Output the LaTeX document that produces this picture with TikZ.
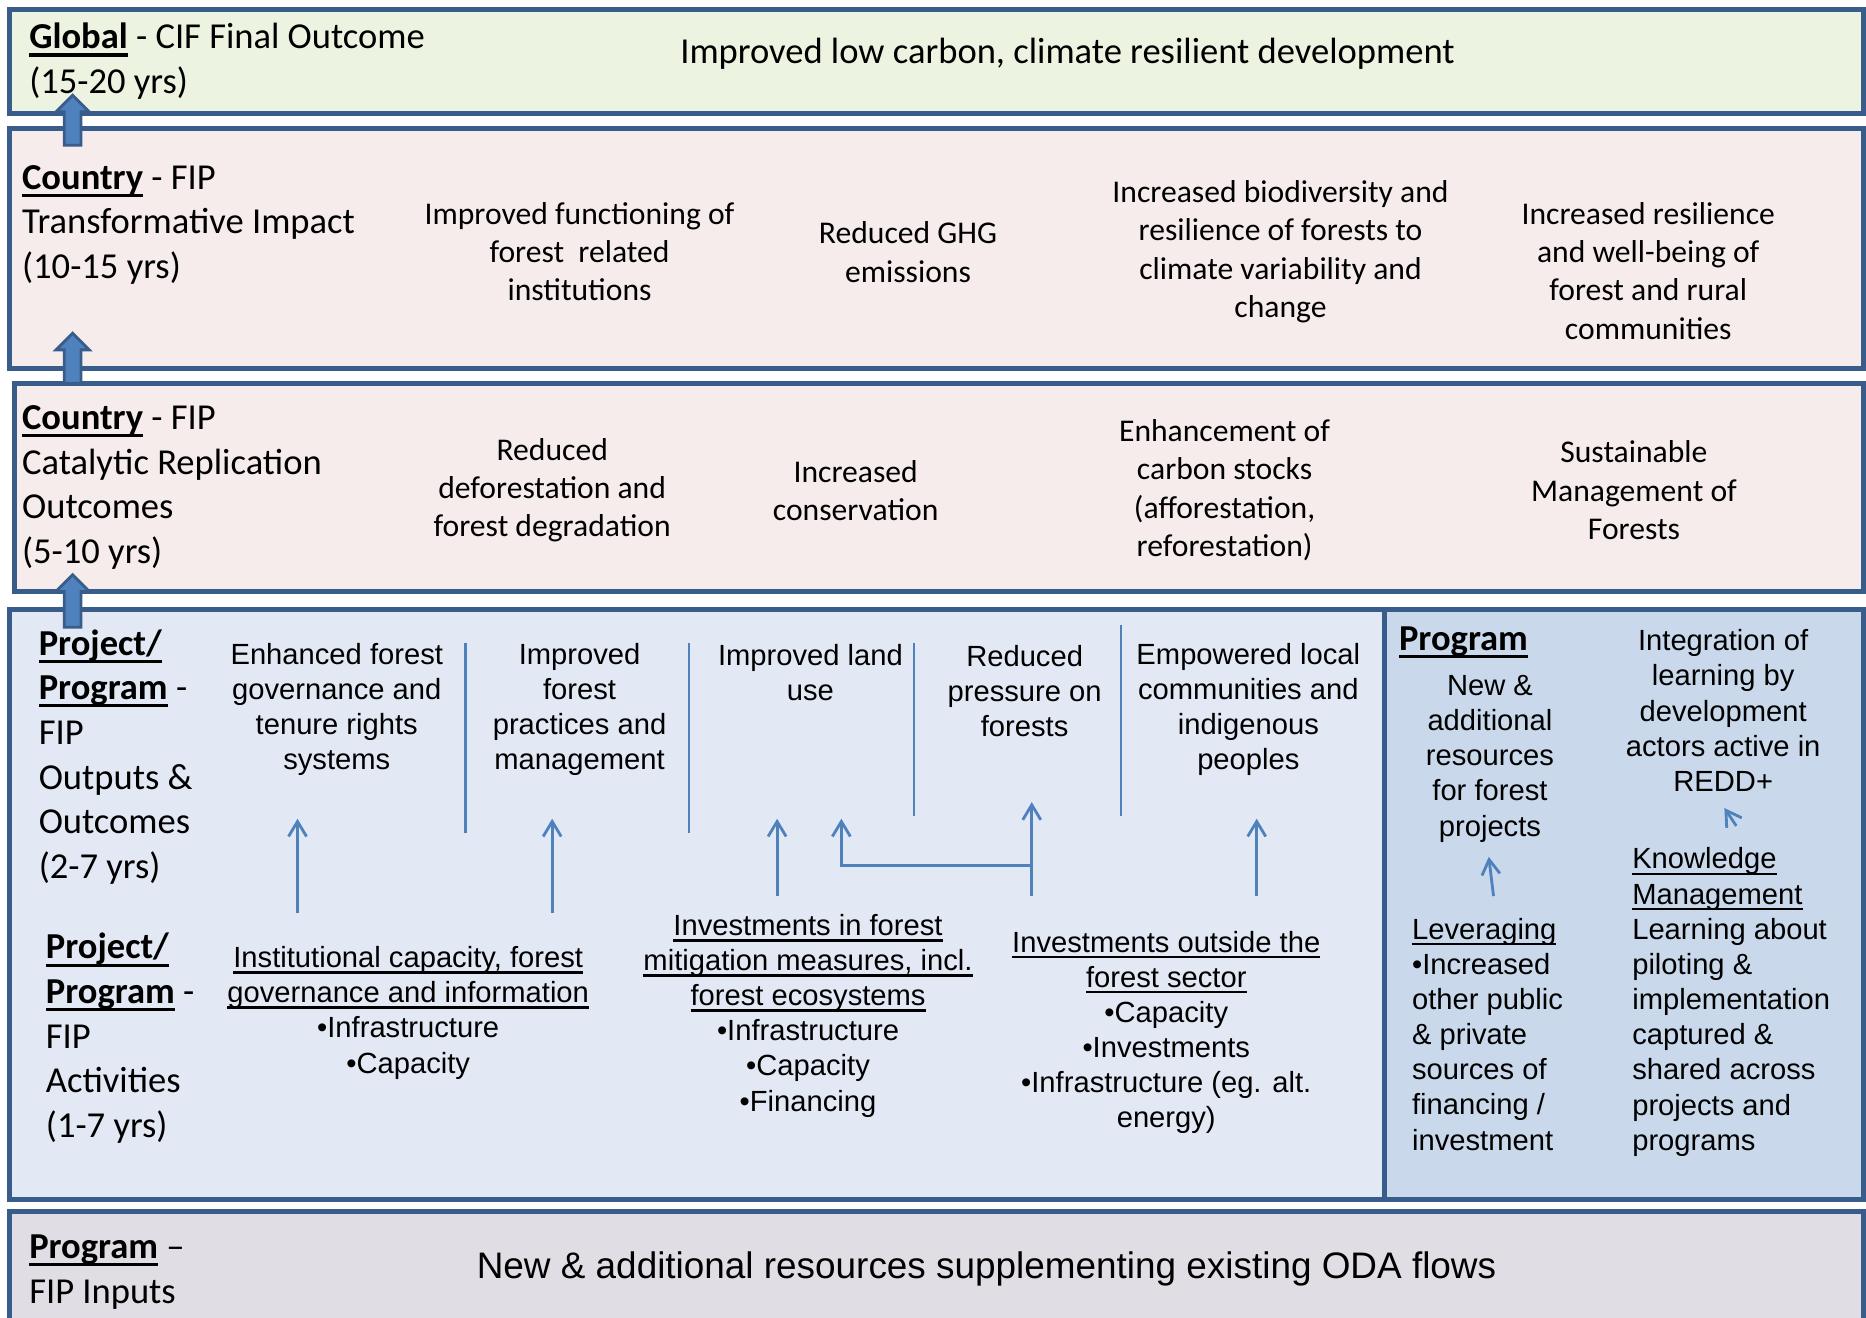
\documentclass[tikz,border=0pt]{standalone}
\usepackage{fontspec}
\setmainfont{Carlito}
\newfontfamily\arialfont{Liberation Sans}
\usepackage{tikz}
\usetikzlibrary{arrows.meta}
\definecolor{bandline}{RGB}{56,93,138}
\definecolor{greenfill}{RGB}{236,243,225}
\definecolor{pinkfill}{RGB}{246,236,236}
\definecolor{bluefill}{RGB}{226,233,244}
\definecolor{panelfill}{RGB}{201,217,235}
\definecolor{greyfill}{RGB}{224,222,228}
\definecolor{arrowblue}{RGB}{79,129,189}
\definecolor{arrowedge}{RGB}{56,93,138}
% 下划线(固定深度, 较粗)
\newcommand\undl[1]{\leavevmode\setbox0\hbox{#1}\rlap{\rule[-0.21em]{\wd0}{0.085em}}\box0\relax}

\begin{document}
\begin{tikzpicture}[
		x=0.11901mm, y=-0.11901mm,  % 按参考图像素定位
		band/.style={draw=bandline, line width=1.4pt},
		lbl/.style={inner sep=0pt, anchor=west, align=left, font=\fontsize{10.4}{12.7}\selectfont},
		bigitem/.style={inner sep=0pt, align=center, font=\fontsize{10.4}{12.7}\selectfont},
		item/.style={inner sep=0pt, align=center, font=\fontsize{9}{10.9}\selectfont},
		outp/.style={inner sep=0pt, align=center, font=\arialfont\fontsize{8.3}{10}\selectfont},
		inp/.style={inner sep=0pt, align=center, font=\arialfont\fontsize{10.5}{12.6}\selectfont},
		sep/.style={draw=arrowblue, line width=0.7pt},
		arrow/.style={draw=arrowblue, line width=0.8pt, -{Straight Barb[length=1.5mm, width=1.8mm]}},
		blockarrow/.style={fill=arrowblue, draw=arrowedge, line width=0.8pt}
		]
		\useasboundingbox (0,0) rectangle (1568,1107);
		% 各层底色框
		\draw[band, fill=greenfill] (8,8) rectangle (1566,95);
		\draw[band, fill=pinkfill] (8,108) rectangle (1566,310);
		\draw[band, fill=pinkfill] (12,322) rectangle (1566,497);
		\draw[band, fill=bluefill] (8,512) rectangle (1163,1008);
		\draw[band, fill=panelfill] (1163,512) rectangle (1566,1008);
		\draw[band, fill=greyfill] (8,1018) rectangle (1566,1125);
		% 左侧粗箭头
		\foreach \yb/\yt in {122/80, 322/280, 527/483}
			\draw[blockarrow] (54,\yb) -- (54,\yt+14) -- (47,\yt+14) -- (61,\yt) -- (75,\yt+14) -- (68,\yt+14) -- (68,\yb) -- cycle;
		% Global
		\node[lbl] (glbl) at (24,51.5) {\undl{\textbf{Global}} - CIF Final Outcome\\(15-20 yrs)};
		\node[bigitem] (gout) at (897,45) {Improved low carbon, climate resilient development};
		% Country - Transformative Impact
		\node[lbl] (tlbl) at (18,189) {\undl{\textbf{Country}} - FIP\\Transformative Impact\\(10-15 yrs)};
		\node[item] (t1) at (487,211.5) {Improved functioning of\\forest\ \ related\\institutions};
		\node[item] (t2) at (763,212) {Reduced GHG\\emissions};
		\node[item] (t3) at (1076,211.5) {Increased biodiversity and\\resilience of forests to\\climate variability and\\change};
		\node[item] (t4) at (1385,227.5) {Increased resilience\\and well-being of\\forest and rural\\communities};
		% Country - Catalytic Replication
		\node[lbl] (clbl) at (18,409.5) {\undl{\textbf{Country}} - FIP\\Catalytic Replication\\Outcomes\\(5-10 yrs)};
		\node[item] (c1) at (464,412) {Reduced\\deforestation and\\forest degradation};
		\node[item] (c2) at (719,412) {Increased\\conservation};
		\node[item] (c3) at (1029,412) {Enhancement of\\carbon stocks\\(afforestation,\\reforestation)};
		\node[item] (c4) at (1373,412) {Sustainable\\Management of\\Forests};
		% Project/Program - Outputs & Activities
		\node[lbl] (olbl) at (32,636) {\undl{\textbf{Project/}}\\\undl{\textbf{Program}} -\\FIP\\Outputs \&\\Outcomes\\(2-7 yrs)};
		\node[lbl] (albl) at (38,872.5) {\undl{\textbf{Project/}}\\\undl{\textbf{Program}} -\\FIP\\Activities\\(1-7 yrs)};
		\node[outp] (o1) at (283,596) {Enhanced forest\\governance and\\tenure rights\\systems};
		\node[outp] (o2) at (487,596) {Improved\\forest\\practices and\\management};
		\node[outp] (o3) at (681,565.5) {Improved land\\use};
		\node[outp] (o4) at (861,580.5) {Reduced\\pressure on\\forests};
		\node[outp] (o5) at (1049,596) {Empowered local\\communities and\\indigenous\\peoples};
		\node[outp] (act1) at (343,851) {\undl{Institutional capacity, forest}\\\undl{governance and information}\\•Infrastructure\\•Capacity};
		\node[outp] (act2) at (679,853.5) {\undl{Investments in forest}\\\undl{mitigation measures, incl.}\\\undl{forest ecosystems}\\•Infrastructure\\•Capacity\\•Financing};
		\node[outp] (act3) at (980,867.5) {\undl{Investments outside the}\\\undl{forest sector}\\•Capacity\\•Investments\\•Infrastructure (eg. alt.\\energy)};
		% 分隔竖线
		\foreach \x/\ya/\yb in {391/540/700, 579/540/700, 768/540/686, 942/525/686}
			\draw[sep] (\x,\ya) -- (\x,\yb);
		% 活动到产出的箭头
		\foreach \n/\x/\ya/\yb in {1/250/767/688, 2/464/767/688, 3/653/753/688, 4/867/753/674, 5/1056/753/688} {
			\coordinate (src\n) at (\x,\ya);
			\coordinate (dst\n) at (\x,\yb);
			\draw[arrow] (src\n) -- (dst\n);
		}
		\coordinate (fork) at (867,727);
		\coordinate (dst6) at (707,688);
		\draw[arrow] (fork) -| (dst6);
		% 右侧 Program 栏
		\node[lbl, font=\fontsize{10.4}{12.7}\selectfont\bfseries] (prg) at (1175,540) {\undl{Program}};
		\node[outp] (newres) at (1252,637.5) {New \&\\additional\\resources\\for forest\\projects};
		\node[outp, anchor=west, align=left] (lev) at (1186,869) {\undl{Leveraging}\\•Increased\\other public\\\& private\\sources of\\financing /\\investment};
		\node[outp] (integ) at (1448,597) {Integration of\\learning by\\development\\actors active in\\REDD+};
		\node[outp, anchor=west, align=left] (know) at (1371,842) {\undl{Knowledge}\\\undl{Management}\\Learning about\\piloting \&\\implementation\\captured \&\\shared across\\projects and\\programs};
		\coordinate (src7) at (1255,753);
		\coordinate (dst7) at (1251,720);
		\draw[arrow] (src7) -- (dst7);
		\coordinate (src8) at (1459,694);
		\coordinate (dst8) at (1449,679);
		\draw[arrow] (src8) -- (dst8);
		% 投入层
		\node[lbl] (plbl) at (24,1069) {\undl{\textbf{Program}} --\\FIP Inputs};
		\node[inp] (inp) at (829,1066) {New \& additional resources supplementing existing ODA flows};
	\end{tikzpicture}
\end{document}
